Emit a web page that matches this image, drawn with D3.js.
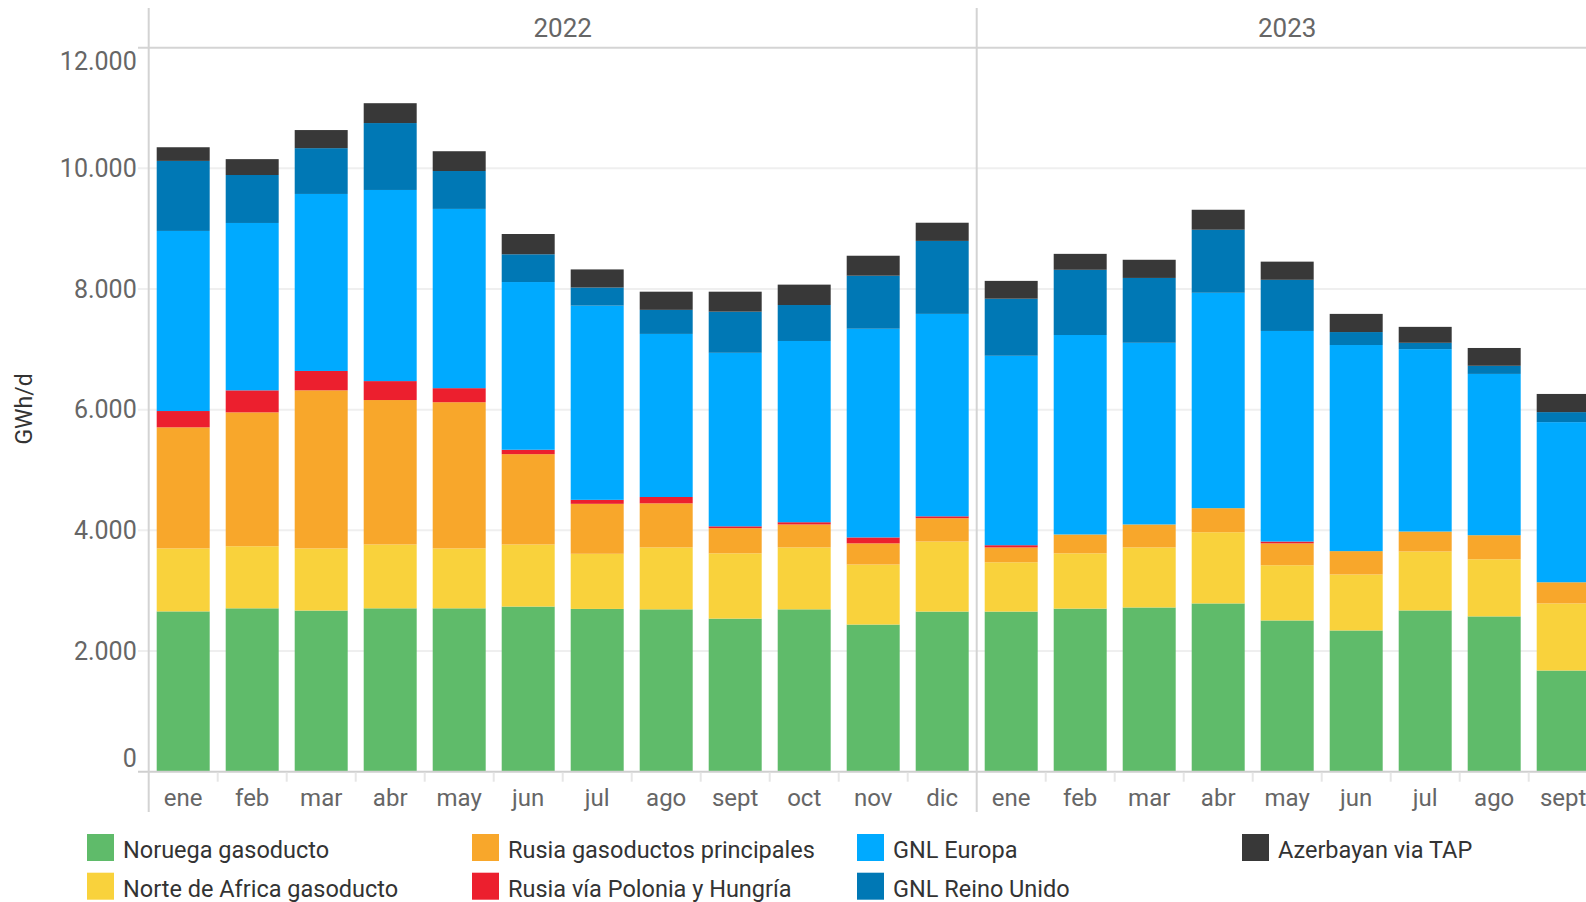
<!DOCTYPE html>
<html>
<head>
<meta charset="utf-8">
<script src="https://cdn.jsdelivr.net/npm/d3@7"></script>
<style>
  html, body { margin: 0; padding: 0; background: #fff; overflow: hidden; }
  svg { display: block; font-family: Roboto, "Noto Sans", sans-serif; }
</style>
</head>
<body>
<svg id="chart" width="1586" height="902"></svg>
<script>
// ---------- DATA ----------
const years = ["2022", "2023"];
const months2022 = ["ene","feb","mar","abr","may","jun","jul","ago","sept","oct","nov","dic"];
const months2023 = ["ene","feb","mar","abr","may","jun","jul","ago","sept"];

const seriesNames = [
  "Noruega gasoducto",
  "Norte de Africa gasoducto",
  "Rusia gasoductos principales",
  "Rusia vía Polonia y Hungría",
  "GNL Europa",
  "GNL Reino Unido",
  "Azerbayan via TAP"
];
const seriesColors = ["#5FBB6A", "#F9D23C", "#F8A72B", "#EC1F2E", "#00AAFF", "#0078B5", "#383838"];

// GWh/d, 2022 ene..dic then 2023 ene..sept
const noruega      = [2657,2708,2671,2708,2708,2737,2698,2691,2537,2691,2439,2654, 2654,2703,2722,2789,2507,2341,2673,2574,1677];
const norteAfrica  = [1044,1029,1030,1058, 993,1029, 914,1026,1082,1026, 995,1161,  817, 916, 995,1180, 915, 928, 977, 947,1112];
const rusiaPrinc   = [2007,2219,2620,2394,2423,1497, 828, 731, 418, 381, 351, 387,  246, 313, 381, 399, 363, 387, 331, 399, 351];
const rusiaPolonia = [ 270, 365, 321, 314, 233,  73,  66, 105,  30,  37,  98,  31,   37,   0,   0,   0,  30,   0,   0,   0,   0];
const gnlEuropa    = [2985,2774,2934,3168,2971,2780,3219,2703,2876,3004,3459,3355, 3140,3306,3011,3570,3490,3416,3023,2673,2654];
const gnlReinoUnido= [1161, 795, 759,1109, 628, 460, 300, 399, 682, 596, 879,1210,  946,1081,1075,1045, 848, 215, 105, 135, 166];
const azerbayan    = [ 226, 263, 300, 329, 328, 336, 300, 301, 331, 338, 331, 301,  295, 264, 301, 331, 301, 301, 264, 295, 301];

const yTicks = [0, 2000, 4000, 6000, 8000, 10000, 12000];
const yLabel = "GWh/d";

// ---------- BUILD ROWS ----------
const seriesValues = [noruega, norteAfrica, rusiaPrinc, rusiaPolonia, gnlEuropa, gnlReinoUnido, azerbayan];
const monthsByYear = [months2022, months2023];
const rows = [];
let idx = 0;
years.forEach((yr, yi) => {
  monthsByYear[yi].forEach(m => {
    const r = { year: yr, month: m };
    seriesNames.forEach((s, si) => r[s] = seriesValues[si][idx]);
    rows.push(r);
    idx++;
  });
});

// ---------- LAYOUT ----------
const W = 1586, H = 902;
const svg = d3.select("#chart");
const plotTop = 47.7, plotBottom = 771.7;
const step = 69;
const panelX0 = [148.7, 148.7 + step * months2022.length];
const panelX1 = [panelX0[1], panelX0[1] + step * months2023.length];

const y = d3.scaleLinear().domain([0, 12000]).range([plotBottom, plotTop]);
const color = d3.scaleOrdinal().domain(seriesNames).range(seriesColors);
const xScales = years.map((yr, i) =>
  d3.scaleBand().domain(monthsByYear[i]).range([panelX0[i], panelX1[i]]).paddingInner(0.232).paddingOuter(0.116));

const locale = d3.formatLocale({ decimal: ",", thousands: ".", grouping: [3], currency: ["", "€"] });
const fmt = locale.format(",d");

// gridlines
svg.append("g").selectAll("line").data(yTicks.filter(d => d > 0 && d < 12000)).join("line")
  .attr("x1", 138).attr("x2", W).attr("y1", d => y(d)).attr("y2", d => y(d))
  .attr("stroke", "#efefef").attr("stroke-width", 2);

// header line (top of plot)
svg.append("line").attr("x1", 138).attr("x2", W).attr("y1", y(12000)).attr("y2", y(12000))
  .attr("stroke", "#d4d4d4").attr("stroke-width", 2);

// bars
const stacked = d3.stack().keys(seriesNames)(rows);
const barsG = svg.append("g");
stacked.forEach(layer => {
  barsG.append("g").attr("fill", color(layer.key))
    .selectAll("rect").data(layer).join("rect")
    .attr("x", d => xScales[years.indexOf(d.data.year)](d.data.month))
    .attr("width", d => xScales[years.indexOf(d.data.year)].bandwidth())
    .attr("y", d => y(d[1]))
    .attr("height", d => Math.max(0, y(d[0]) - y(d[1])));
});

// baseline
svg.append("line").attr("x1", 138).attr("x2", W).attr("y1", plotBottom).attr("y2", plotBottom)
  .attr("stroke", "#cfcfcf").attr("stroke-width", 2);

// month separator ticks
years.forEach((yr, i) => {
  const xs = xScales[i];
  const bounds = d3.range(1, monthsByYear[i].length + (i === years.length - 1 ? 1 : 0)).map(k => panelX0[i] + k * xs.step());
  svg.append("g").selectAll("line").data(bounds).join("line")
    .attr("x1", d => d).attr("x2", d => d).attr("y1", plotBottom + 1).attr("y2", plotBottom + 10)
    .attr("stroke", "#e6e6e6").attr("stroke-width", 2);
});

// panel separators (vertical)
svg.append("g").selectAll("line").data(panelX0).join("line")
  .attr("x1", d => d).attr("x2", d => d).attr("y1", 8).attr("y2", 812)
  .attr("stroke", "#d3d3d3").attr("stroke-width", 2);

// y axis
const yAxis = svg.append("g").attr("transform", `translate(${panelX0[0]},0)`)
  .call(d3.axisLeft(y).tickValues(yTicks).tickFormat(fmt).tickSize(0).tickPadding(12));
yAxis.select(".domain").remove();
yAxis.selectAll("text")
  .attr("font-size", 25).attr("fill", "#666").attr("font-family", "Roboto")
  .attr("y", d => d === 12000 ? 14 : (d === 0 ? -13.5 : 0));

// x axes (months)
years.forEach((yr, i) => {
  const g = svg.append("g").attr("transform", `translate(0,${plotBottom})`)
    .call(d3.axisBottom(xScales[i]).tickSize(0).tickPadding(17));
  g.select(".domain").remove();
  g.selectAll("text").attr("font-size", 24).attr("fill", "#666").attr("font-family", "Roboto");
});

// year headers
svg.append("g").selectAll("text").data(years).join("text")
  .attr("x", (d, i) => (panelX0[i] + panelX1[i]) / 2).attr("y", 36.5)
  .attr("text-anchor", "middle").attr("font-size", 26).attr("fill", "#666")
  .text(d => d);

// y label
svg.append("text").attr("transform", "translate(32,409) rotate(-90)")
  .attr("text-anchor", "middle").attr("font-size", 23).attr("fill", "#333").text(yLabel);

// legend
const legCols = [87, 472, 857, 1242];
const legRows = [834, 872.7];
const legPos = [[0,0],[0,1],[1,0],[1,1],[2,0],[2,1],[3,0]];
const leg = svg.append("g").selectAll("g").data(seriesNames).join("g")
  .attr("transform", (d, i) => `translate(${legCols[legPos[i][0]]},${legRows[legPos[i][1]]})`);
leg.append("rect").attr("width", 27).attr("height", 27).attr("fill", d => color(d));
leg.append("text").attr("x", 36).attr("y", 24).attr("font-size", 23.5).attr("fill", "#333").text(d => d);
</script>
</body>
</html>
